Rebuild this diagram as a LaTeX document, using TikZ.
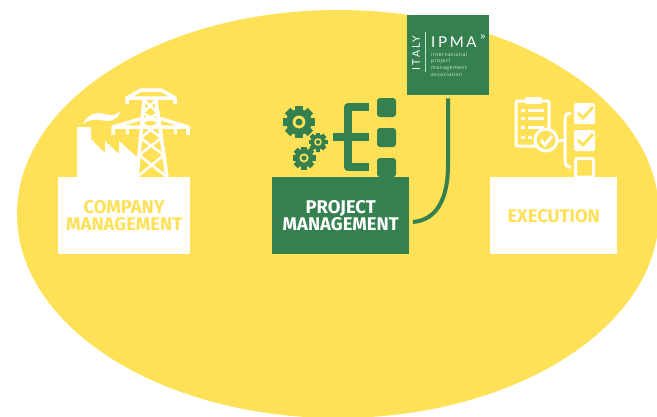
\documentclass[tikz,border=0pt]{standalone}
\usepackage{fontspec}
\setsansfont{Fira Sans}
\newfontfamily\thinfont[LetterSpace=18]{Lato}
\newfontfamily\smallfont[LetterSpace=10]{Open Sans}
\usetikzlibrary{arrows.meta}
\definecolor{bgyellow}{HTML}{FFE158}
\definecolor{ipmagreen}{HTML}{34804F}
\tikzset{
    block/.style={minimum width=#1, minimum height=77pt, inner sep=0pt, align=center,
        font=\sffamily\bfseries\fontsize{18.4}{16.5}\selectfont},
    whiteline/.style={draw=white, line width=3pt},
    greenline/.style={draw=ipmagreen, line width=8pt},
}
\newcommand{\drawgear}[3]{
    \foreach \a in {0,45,...,315}
        \fill[ipmagreen, rotate around={\a:(#1,#2)}] (#1-0.24*#3,#2-#3) rectangle (#1+0.24*#3,#2+#3);
    \fill[ipmagreen] (#1,#2) circle [radius=0.8*#3];
    \fill[bgyellow] (#1,#2) circle [radius=0.4*#3];
    \fill[ipmagreen] (#1,#2) circle [radius=0.22*#3];
}
\begin{document}
\begin{tikzpicture}[x=1pt, y=-1pt]
    \useasboundingbox (0, 0) rectangle (657, 416);
    \fill[bgyellow] (338, 214) ellipse [x radius=321, y radius=204];

    % boxes
    \node[block=132pt, fill=white, text=bgyellow, anchor=north west] (company) at (58, 177) {COMPANY\\MANAGEMENT};
    \node[block=137pt, fill=ipmagreen, text=white, anchor=north west] (project) at (272, 177) {PROJECT\\MANAGEMENT};
    \node[block=127pt, fill=white, text=bgyellow, anchor=north west] (execution) at (490, 177) {EXECUTION};
    \node[fill=ipmagreen, minimum width=82pt, minimum height=80pt, inner sep=0pt, anchor=north west] (ipma) at (407, 15) {};

    % ipma logo
    \node[rotate=90, text=white, inner sep=0pt, font=\thinfont\fontsize{10.5}{10.5}\selectfont] (italy) at (416, 53) {ITALY};
    \draw[white!75!ipmagreen, line width=0.5pt] (425, 32) -- (425, 72);
    \node[text=white, inner sep=0pt, anchor=west, font=\thinfont\fontsize{15}{15}\selectfont] (ipmaname) at (431, 42) {IPMA};
    \node[text=white, inner sep=0pt, anchor=center, font=\sffamily\fontsize{9}{9}\selectfont] (ipmamark) at (483, 37) {»};
    \node[text=white!85!ipmagreen, inner sep=0pt, anchor=north west, align=left, font=\smallfont\fontsize{5}{6.8}\selectfont] (ipmatext) at (431, 52) {international\\project\\management\\association};

    % link
    \coordinate (linkstart) at (413, 222);
    \draw[ipmagreen, line width=4pt, shorten >=3pt] (linkstart) .. controls (436, 220) and (448, 200) .. (448, 165) -- (ipma.south);

    % factory
    \fill[white] (77, 177) -- (77, 127) -- (91, 127) -- (91, 139) -- (105, 153) -- (105, 141) -- (119, 154)
        -- (119, 141) -- (138, 158) -- (138, 177) -- cycle;
    \fill[white] (83, 124) .. controls (88, 112) and (100, 112) .. (106, 114.5) .. controls (112, 116) and (117, 115) .. (120, 111)
        .. controls (119, 120) and (110, 122) .. (103, 120.5) .. controls (96, 119) and (89, 119) .. (83, 124) -- cycle;

    % tower
    \draw[whiteline, line width=3.5pt] (144, 100) -- (137, 177) (156, 100) -- (167, 177);
    \draw[whiteline, line width=3.5pt, line join=round] (127, 104) -- (127, 98) -- (141, 90) -- (161, 90) -- (175, 98) -- (175, 104) (127, 98) -- (175, 98);
    \draw[whiteline, line width=3.5pt, line join=round] (113, 135) -- (113, 127) -- (140, 119) -- (162, 119) -- (188, 127) -- (188, 135) (113, 127) -- (188, 127);
    \foreach \x in {127, 175} \draw[whiteline] (\x, 127) -- (\x, 134);
    \foreach \xa/\ya/\xb/\yb/\xc/\xd in {144/100/142.8/113/156/157.9, 142.8/113/141.9/123/157.9/159.3, 141.9/123/140.5/138/159.3/161.4,
        140.5/138/139/155/161.4/163.9, 139/155/137/177/163.9/167}
        \draw[whiteline, line width=2.5pt] (\xa, \ya) -- (\xd, \yb) (\xc, \ya) -- (\xb, \yb);

    % gears
    \drawgear{299}{122}{16}
    \drawgear{318}{142}{9.5}
    \drawgear{304}{158}{11.5}

    % tree
    \draw[greenline, line join=round] (369, 107) -- (348, 107) -- (348, 167) -- (369, 167);
    \draw[greenline] (333, 137) -- (369, 137);
    \foreach \y in {98, 128, 158}
        \fill[ipmagreen, rounded corners=3pt] (377, \y) rectangle (396, \y + 19);

    % clipboard
    \draw[whiteline, rounded corners=2pt] (525, 101) -- (516, 101) -- (516, 146) -- (538, 146);
    \draw[whiteline, rounded corners=2pt] (542, 101) -- (549, 101) -- (549, 128);
    \fill[white, rounded corners=2pt] (525, 97) rectangle (542, 104);
    \foreach \y in {110, 118, 127, 137} {
        \draw[white, line width=3pt] (521, \y) -- (525, \y);
    }
    \foreach \y/\xe in {110/544, 118/544, 127/544, 137/532}
        \draw[white, line width=3pt] (528, \y) -- (\xe, \y);
    \draw[whiteline, fill=bgyellow] (546, 140) circle [radius=11];
    \draw[white, line width=3pt] (541, 140) -- (545, 145) -- (552, 136);

    % brace
    \draw[whiteline] (558, 140) -- (565, 140);
    \draw[whiteline, rounded corners=5pt] (571, 113) -- (565, 113) -- (565, 167) -- (571, 167);

    % checks
    \foreach \y in {103, 130} {
        \fill[white, rounded corners=2pt] (574, \y) rectangle (595, \y + 21);
        \draw[bgyellow, line width=3pt] (578, \y + 10) -- (583, \y + 15) -- (593, \y + 4);
    }
    \draw[whiteline, rounded corners=2pt] (575.5, 158.5) rectangle (593.5, 177);
\end{tikzpicture}
\end{document}
